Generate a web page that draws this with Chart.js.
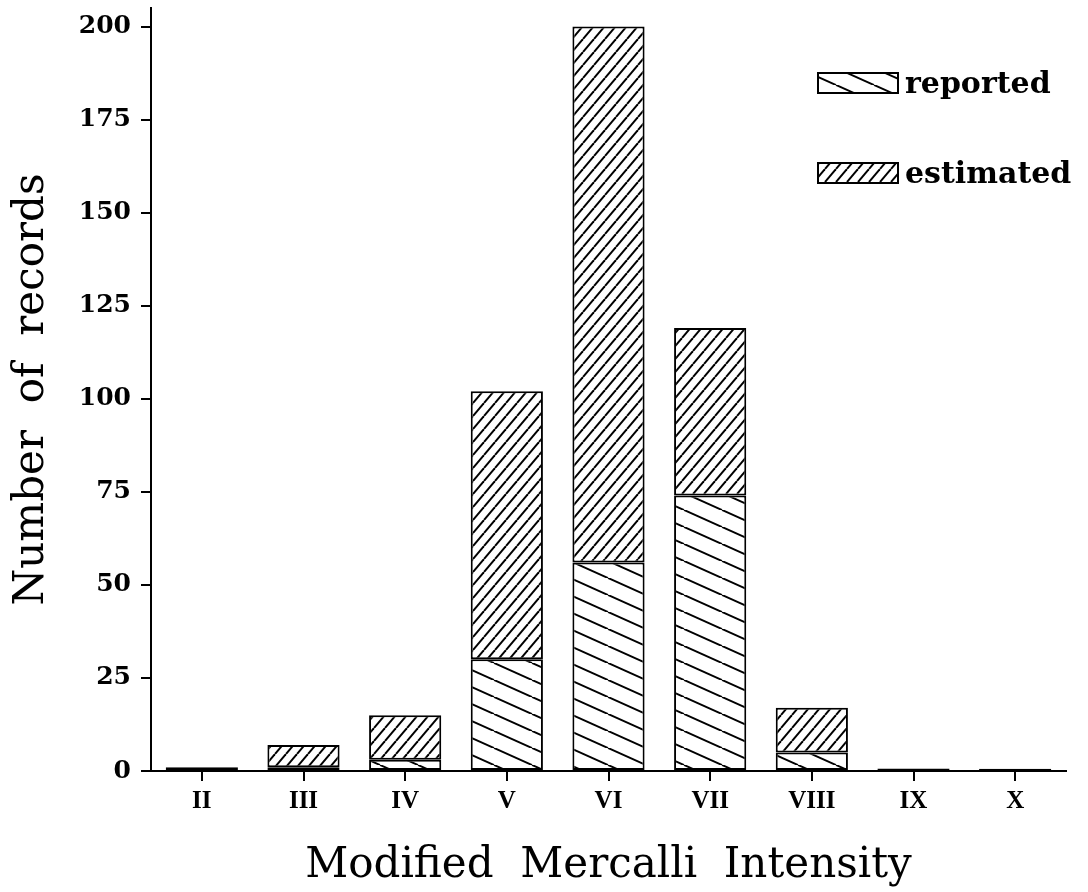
<!DOCTYPE html>
<html lang="en">
<head>
  <meta charset="UTF-8" />
  <title>Modified Mercalli Intensity</title>
  <script src="https://cdn.jsdelivr.net/npm/chart.js"></script>
  <style>
    body {
      margin: 0;
      padding: 0;
      background: #fff;
    }
    #grafico {
      display: block;
    }
  </style>
</head>
<body>
  <canvas id="grafico" width="1088" height="892"></canvas>

  <script>
    // data
    const categories = ['II', 'III', 'IV', 'V', 'VI', 'VII', 'VIII', 'IX', 'X'];
    const reported = [0, 1, 3, 30, 56, 74, 5, 0, 0];
    const estimated = [1, 6, 12, 72, 144, 45, 12, 0.7, 0.6];
    const yTicks = [0, 25, 50, 75, 100, 125, 150, 175, 200];

    // hatch fills
    function hatch(w, h, rising) {
      const c = document.createElement('canvas');
      c.width = w;
      c.height = h;
      const g = c.getContext('2d');
      g.fillStyle = '#fff';
      g.fillRect(0, 0, w, h);
      g.strokeStyle = '#000';
      g.lineWidth = 2;
      for (let k = -1; k <= 1; k++) {
        g.beginPath();
        if (rising) {
          g.moveTo(k * w, h);
          g.lineTo(k * w + w, 0);
        } else {
          g.moveTo(k * w, 0);
          g.lineTo(k * w + w, h);
        }
        g.stroke();
      }
      return g.createPattern(c, 'repeat');
    }

    const fillReported = hatch(38, 17, false);
    const fillEstimated = hatch(11, 13, true);

    const serif = 'DejaVu Serif';

    // legend drawn in the upper right corner
    const legendaPlugin = {
      id: 'legenda',
      afterDraw(chart) {
        const ctx = chart.ctx;
        const itens = chart.data.datasets;
        ctx.save();
        itens.forEach((ds, i) => {
          const y = 73 + i * 90;
          ctx.fillStyle = ds.backgroundColor;
          ctx.fillRect(818, y, 80, 20);
          ctx.strokeStyle = '#000';
          ctx.lineWidth = 2;
          ctx.strokeRect(818, y, 80, 20);
          ctx.fillStyle = '#000';
          ctx.font = 'bold 30px "' + serif + '"';
          ctx.textBaseline = 'alphabetic';
          ctx.textAlign = 'left';
          ctx.fillText(ds.label, 905, y + 20);
        });
        ctx.restore();
      }
    };

    function semSobra(scale) {
      scale.paddingTop = 0;
      scale.paddingBottom = 0;
      scale.paddingLeft = 0;
      scale.paddingRight = 0;
    }

    const ctx = document.getElementById('grafico').getContext('2d');
    const grafico = new Chart(ctx, {
      type: 'bar',
      data: {
        labels: categories,
        datasets: [{
          label: 'reported',
          data: reported,
          backgroundColor: fillReported,
          borderColor: '#000',
          borderWidth: 2,
          borderSkipped: false
        }, {
          label: 'estimated',
          data: estimated,
          backgroundColor: fillEstimated,
          borderColor: '#000',
          borderWidth: 2,
          borderSkipped: false
        }]
      },
      options: {
        responsive: false,
        animation: false,
        layout: {
          padding: { left: 0, right: 22, top: 8, bottom: 0 }
        },
        plugins: {
          legend: { display: false },
          tooltip: { enabled: false }
        },
        datasets: {
          bar: {
            categoryPercentage: 1,
            barPercentage: 0.71
          }
        },
        scales: {
          x: {
            stacked: true,
            offset: true,
            afterFit(scale) {
              scale.height = 121;
              semSobra(scale);
            },
            grid: {
              offset: false,
              drawOnChartArea: false,
              tickLength: 10,
              color: '#000',
              lineWidth: 2
            },
            border: { display: true, color: '#000', width: 2 },
            ticks: {
              color: '#000',
              padding: 6,
              font: { family: 'Liberation Serif', size: 25, weight: 'bold' }
            },
            title: {
              display: true,
              text: 'Modified  Mercalli  Intensity',
              color: '#000',
              font: { family: serif, size: 42 },
              padding: { top: 0, bottom: 1 }
            }
          },
          y: {
            stacked: true,
            min: 0,
            max: 205,
            afterFit(scale) {
              scale.width = 151;
              semSobra(scale);
            },
            afterBuildTicks(scale) {
              scale.ticks = yTicks.map(v => ({ value: v }));
            },
            grid: {
              drawOnChartArea: false,
              tickLength: 10,
              color: '#000',
              lineWidth: 2
            },
            border: { display: true, color: '#000', width: 2 },
            ticks: {
              color: '#000',
              padding: 10,
              font: { family: serif, size: 25, weight: 'bold' }
            },
            title: {
              display: true,
              text: 'Number  of  records',
              color: '#000',
              font: { family: serif, size: 42 },
              padding: { top: 7, bottom: 0 }
            }
          }
        }
      },
      plugins: [legendaPlugin]
    });
  </script>
</body>
</html>
